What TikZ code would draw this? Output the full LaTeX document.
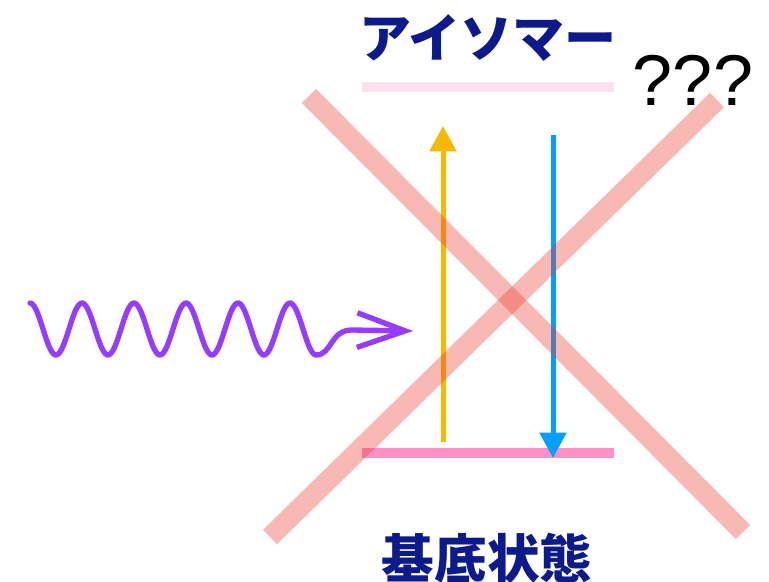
\documentclass[tikz,border=0pt]{standalone}
\usepackage{fontspec}
\newfontfamily\jpfont{Noto Sans CJK JP}
\newfontfamily\qfont{Liberation Sans}
\usetikzlibrary{arrows.meta,calc}
\definecolor{isopink}{RGB}{255,224,238}
\definecolor{gndpink}{RGB}{255,143,196}
\definecolor{excorange}{RGB}{247,185,0}
\definecolor{decblue}{RGB}{0,160,255}
\definecolor{photonviolet}{RGB}{150,60,255}
\definecolor{labelnavy}{RGB}{12,26,140}
\definecolor{crossred}{RGB}{236,60,48}
\tikzset{
  level/.style={line width=8pt},
  trans/.style={line width=3.75pt,-{Triangle[length=19pt,width=19.5pt]}},
  wave/.style={photonviolet,line width=4pt,line cap=round,
    -{Straight Barb[length=36pt,width=26pt]}},
  crossbar/.style={crossred,opacity=0.36,line width=15pt},
  statelbl/.style={font=\jpfont\bfseries\fontsize{39}{41}\selectfont,
    text=labelnavy,inner sep=0pt},
}

\begin{document}
\begin{tikzpicture}[x=0.75pt,y=-0.75pt]
  \useasboundingbox (0,0) rectangle (769,582);
  % level end points
  \coordinate (isoL) at (362,87);
  \coordinate (isoR) at (614,87);
  \coordinate (gndL) at (362,453);
  \coordinate (gndR) at (614,453);
  % --- levels ---
  \draw[level,isopink] (isoL) -- (isoR);
  \draw[level,gndpink] (gndL) -- (gndR);
  \node[statelbl] (iso) at (488,38) {アイソマー};
  \node[statelbl,font=\jpfont\bfseries\fontsize{39.5}{41}\selectfont] (gnd) at (487,558) {基底状態};
  % --- excitation and decay ---
  \coordinate (excBot) at (443,442);
  \coordinate (excTop) at (443,126);
  \coordinate (decTop) at (553,135);
  \coordinate (decBot) at (553,458);
  \draw[trans,excorange] (excBot) -- (excTop);
  \draw[trans,decblue] (decTop) -- (decBot);
  % --- incoming photon ---
  \coordinate (waveTip) at (413,331);
  \draw[wave] plot[domain=30:316,samples=160,smooth] (\x,{329-26*cos(6.923*(\x-30))})
    .. controls (332,355) and (330,330) .. (352,330) -- (waveTip);
  % --- the cross over it all ---
  \coordinate (xa1) at (309,96);
  \coordinate (xa2) at (743,532);
  \coordinate (xb1) at (270,537);
  \coordinate (xb2) at (717,100);
  \draw[crossbar] (xa1) -- (xa2);
  \draw[crossbar] (xb1) -- (xb2);
  \node[font=\qfont\fontsize{54}{56}\selectfont,inner sep=0pt] (qq) at (693,80) {???};
\end{tikzpicture}
\end{document}
